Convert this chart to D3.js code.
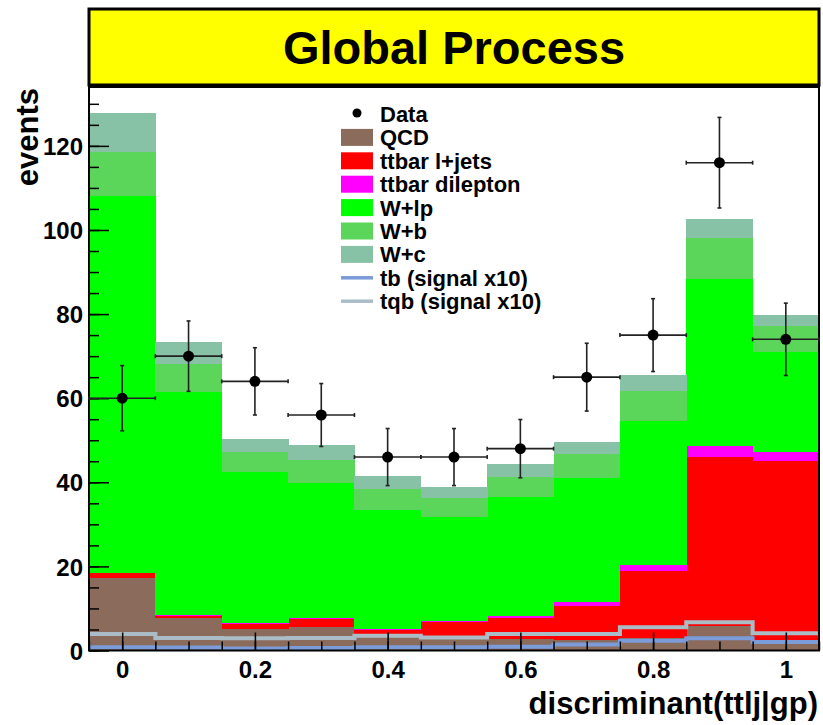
<!DOCTYPE html>
<html>
<head>
<meta charset="utf-8">
<script src="https://cdn.jsdelivr.net/npm/d3@7"></script>
<style>
  body { margin: 0; background: #fff; }
  text { font-family: "Liberation Sans", Arial, Helvetica, sans-serif; font-weight: bold; }
</style>
</head>
<body>
<script>
'use strict';

// bin centres of the discriminant histogram (width 0.1)
let binCenters = [0, 0.1, 0.2, 0.3, 0.4, 0.5, 0.6, 0.7, 0.8, 0.9, 1.0];

// stacked backgrounds, bottom to top
let qcd   = [17.3, 7.9, 5.3, 5.7, 3.9, 3.0, 2.9, 2.5, 3.1, 5.8, 2.3];
let ttlj  = [1.1, 0.4, 1.0, 1.8, 1.0, 3.8, 4.9, 8.2, 15.9, 40.3, 42.8];
let ttll  = [0.2, 0.2, 0.2, 0.2, 0.2, 0.3, 0.5, 0.8, 1.3, 2.7, 2.2];
let wlp   = [89.5, 53.0, 36.0, 32.3, 28.5, 24.6, 28.3, 29.6, 34.3, 39.5, 23.7];
let wb    = [10.5, 6.8, 4.8, 5.3, 4.8, 4.7, 4.7, 5.8, 7.1, 9.9, 6.3];
let wc    = [9.1, 5.0, 2.9, 3.5, 3.1, 2.5, 3.0, 2.7, 3.9, 4.5, 2.4];

// signal (x10), drawn as lines
let tbSig  = [0.8, 0.7, 0.5, 0.6, 0.8, 0.8, 0.9, 1.4, 2.3, 2.9, 2.0];
let tqbSig = [3.9, 3.0, 2.9, 3.0, 3.5, 3.1, 3.9, 3.9, 5.5, 6.7, 4.1];

// observed events
let dataCounts = [60, 70, 64, 56, 46, 46, 48, 65, 75, 116, 74];

let seriesNames  = ['QCD', 'ttbar l+jets', 'ttbar dilepton', 'W+lp', 'W+b', 'W+c'];
let seriesColors = ['#8b6b5c', '#ff0000', '#ff00ff', '#00ff00', '#5bd65b', '#88c2a6'];
let lineNames    = ['tb (signal x10)', 'tqb (signal x10)'];
let lineColors   = ['#7b9bd9', '#aabdc6'];

let xMajor = [0, 0.2, 0.4, 0.6, 0.8, 1];
let yMajor = [0, 20, 40, 60, 80, 100, 120];

let BIN_WIDTH = 0.1;
let WIDTH = 823;
let HEIGHT = 725;

let svg = d3.select('body')
    .append('svg')
    .attr('width', WIDTH)
    .attr('height', HEIGHT);

let x = d3.scaleLinear().domain([-0.05, 1.05]).range([89, 819]);
let y = d3.scaleLinear().domain([0, 134]).range([650.5, 87]);

// title box
svg.append('rect')
    .attr('x', 89).attr('y', 9)
    .attr('width', 730).attr('height', 76)
    .attr('fill', '#ffff00')
    .attr('stroke', '#000')
    .attr('stroke-width', 3);
svg.append('text')
    .attr('x', 454).attr('y', 64)
    .attr('text-anchor', 'middle')
    .attr('font-size', 47)
    .text('Global Process');

// stacked histogram
let rows = binCenters.map((c, i) => ({
    c: c, QCD: qcd[i], 'ttbar l+jets': ttlj[i], 'ttbar dilepton': ttll[i],
    'W+lp': wlp[i], 'W+b': wb[i], 'W+c': wc[i]
}));
let stack = d3.stack().keys(seriesNames)(rows);

svg.append('g').selectAll('g')
    .data(stack)
    .enter()
    .append('g')
    .attr('fill', (d, i) => seriesColors[i])
    .attr('shape-rendering', 'crispEdges')
    .selectAll('rect')
    .data(d => d)
    .enter()
    .append('rect')
    .attr('x', d => x(d.data.c - BIN_WIDTH / 2))
    .attr('width', d => x(d.data.c + BIN_WIDTH / 2) - x(d.data.c - BIN_WIDTH / 2) + 0.5)
    .attr('y', d => y(d[1]))
    .attr('height', d => y(d[0]) - y(d[1]) + 0.3);

// signal step lines
let stepLine = d3.line().x(p => x(p[0])).y(p => y(p[1]));
function stepPoints(vals) {
    let pts = [];
    binCenters.forEach((c, i) => {
        pts.push([c - BIN_WIDTH / 2, vals[i]], [c + BIN_WIDTH / 2, vals[i]]);
    });
    return pts;
}
[tbSig, tqbSig].forEach((vals, i) => {
    svg.append('path')
        .attr('d', stepLine(stepPoints(vals)))
        .attr('fill', 'none')
        .attr('stroke', lineColors[i])
        .attr('stroke-width', 4);
});

// axes
let xAxisMinor = d3.axisBottom(x)
    .tickValues(d3.range(-0.05, 1.051, 0.05))
    .tickSize(-9).tickFormat('');
let xAxisMajor = d3.axisBottom(x)
    .tickValues(xMajor)
    .tickSize(-18).tickFormat(d3.format('~g'));
let yAxisMinor = d3.axisLeft(y)
    .tickValues(d3.range(0, 131, 5))
    .tickSize(-10).tickFormat('');
let yAxisMajor = d3.axisLeft(y)
    .tickValues(yMajor)
    .tickSize(-20).tickFormat(d3.format('d'));

function styleAxis(g) {
    g.select('.domain').remove();
    g.selectAll('line').attr('stroke', '#000').attr('stroke-width', 1.5);
    g.selectAll('text').attr('fill', '#000').attr('font-size', 24)
        .attr('font-family', '"Liberation Sans", Arial, sans-serif')
        .attr('font-weight', 'bold');
}

svg.append('g').attr('transform', 'translate(0,650.5)').call(xAxisMinor).call(styleAxis);
svg.append('g').attr('transform', 'translate(0,650.5)').call(xAxisMajor).call(styleAxis)
    .selectAll('text').attr('y', 10).attr('dy', '0.71em');
svg.append('g').attr('transform', 'translate(89,0)').call(yAxisMinor).call(styleAxis);
svg.append('g').attr('transform', 'translate(89,0)').call(yAxisMajor).call(styleAxis)
    .selectAll('text').attr('x', -6).attr('dy', '0.36em');

// frame
svg.append('rect')
    .attr('x', 89).attr('y', 87)
    .attr('width', 730).attr('height', 563.5)
    .attr('fill', 'none')
    .attr('stroke', '#000')
    .attr('stroke-width', 2);

// data points with sqrt(N) errors
let pts = svg.append('g').selectAll('g')
    .data(binCenters.map((c, i) => ({ c: c, n: dataCounts[i] })))
    .enter()
    .append('g')
    .attr('stroke', '#222')
    .attr('stroke-width', 1.6);
pts.append('line')
    .attr('x1', d => x(d.c - BIN_WIDTH / 2)).attr('x2', d => x(d.c + BIN_WIDTH / 2))
    .attr('y1', d => y(d.n)).attr('y2', d => y(d.n));
pts.append('line')
    .attr('x1', d => x(d.c)).attr('x2', d => x(d.c))
    .attr('y1', d => y(d.n + Math.sqrt(d.n))).attr('y2', d => y(d.n - Math.sqrt(d.n)));
// small end caps
pts.each(function(d) {
    let g = d3.select(this);
    [d.n + Math.sqrt(d.n), d.n - Math.sqrt(d.n)].forEach(v => {
        g.append('line')
            .attr('x1', x(d.c) - 2).attr('x2', x(d.c) + 2)
            .attr('y1', y(v)).attr('y2', y(v));
    });
    [d.c - BIN_WIDTH / 2, d.c + BIN_WIDTH / 2].forEach(v => {
        g.append('line')
            .attr('x1', x(v)).attr('x2', x(v))
            .attr('y1', y(d.n) - 2).attr('y2', y(d.n) + 2);
    });
});
pts.append('circle')
    .attr('cx', d => x(d.c)).attr('cy', d => y(d.n))
    .attr('r', 5.5)
    .attr('fill', '#000')
    .attr('stroke', 'none');

// axis titles
svg.append('text')
    .attr('x', 818).attr('y', 714)
    .attr('text-anchor', 'end')
    .attr('font-size', 31)
    .text('discriminant(ttlj|gp)');
svg.append('text')
    .attr('transform', 'translate(38,88) rotate(-90)')
    .attr('text-anchor', 'end')
    .attr('font-size', 31)
    .text('events');

// legend
let LEG_X = 341;
let LEG_Y = 114;
let LEG_STEP = 23.4;
let legend = svg.append('g');
let legRow = 0;
legend.append('circle')
    .attr('cx', LEG_X + 16).attr('cy', LEG_Y - 1).attr('r', 4.5).attr('fill', '#000');
legend.append('text')
    .attr('x', LEG_X + 39).attr('y', LEG_Y).attr('dy', '0.36em')
    .attr('font-size', 22).text('Data');
seriesNames.forEach((name, i) => {
    legRow++;
    let cy = LEG_Y + legRow * LEG_STEP;
    legend.append('rect')
        .attr('x', LEG_X).attr('y', cy - 8.5)
        .attr('width', 32).attr('height', 17)
        .attr('fill', seriesColors[i]);
    legend.append('text')
        .attr('x', LEG_X + 39).attr('y', cy).attr('dy', '0.36em')
        .attr('font-size', 22).text(name);
});
lineNames.forEach((name, i) => {
    legRow++;
    let cy = LEG_Y + legRow * LEG_STEP;
    legend.append('line')
        .attr('x1', LEG_X).attr('x2', LEG_X + 32)
        .attr('y1', cy).attr('y2', cy)
        .attr('stroke', lineColors[i]).attr('stroke-width', 3.5);
    legend.append('text')
        .attr('x', LEG_X + 39).attr('y', cy).attr('dy', '0.36em')
        .attr('font-size', 22).text(name);
});
</script>
</body>
</html>
